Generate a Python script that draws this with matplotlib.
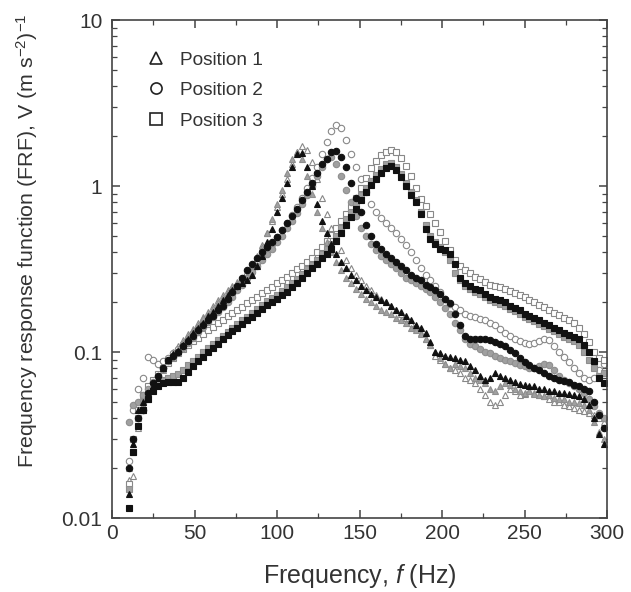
import numpy as np
import matplotlib
matplotlib.use("Agg")
import matplotlib.pyplot as plt
from matplotlib.ticker import FixedLocator, FixedFormatter, LogLocator, NullFormatter

plt.rcParams["font.family"] = ["Liberation Sans", "DejaVu Sans"]
plt.rcParams["mathtext.fontset"] = "custom"
plt.rcParams["mathtext.rm"] = "Liberation Sans"
plt.rcParams["mathtext.it"] = "Liberation Sans:italic"

TEXT = "#333333"

# frequency grid (Hz)
freq = np.arange(10, 299, 3)

# Position 1 (triangles)
p1_black = [0.014, 0.028, 0.045, 0.05, 0.055, 0.062, 0.07, 0.08, 0.09, 0.097,
            0.102, 0.11, 0.12, 0.13, 0.14, 0.15, 0.165, 0.175, 0.19, 0.205,
            0.22, 0.235, 0.25, 0.26, 0.27, 0.29, 0.33, 0.38, 0.46, 0.55,
            0.7, 0.85, 1.05, 1.3, 1.55, 1.58, 1.3, 1.0, 0.78, 0.62,
            0.52, 0.45, 0.39, 0.35, 0.32, 0.29, 0.27, 0.25, 0.235, 0.225,
            0.215, 0.205, 0.2, 0.19, 0.18, 0.175, 0.165, 0.155, 0.145, 0.14,
            0.13, 0.115, 0.1, 0.098, 0.095, 0.094, 0.092, 0.09, 0.088, 0.082,
            0.078, 0.072, 0.068, 0.07, 0.075, 0.072, 0.07, 0.068, 0.066, 0.064,
            0.063, 0.062, 0.062, 0.06, 0.06, 0.058, 0.058, 0.057, 0.057, 0.056,
            0.055, 0.054, 0.052, 0.048, 0.04, 0.032, 0.028]
p1_gray = [0.02, 0.03, 0.04, 0.048, 0.055, 0.06, 0.068, 0.078, 0.088, 0.098,
           0.105, 0.115, 0.125, 0.135, 0.145, 0.16, 0.17, 0.185, 0.2, 0.215,
           0.23, 0.245, 0.26, 0.275, 0.29, 0.32, 0.37, 0.43, 0.52, 0.63,
           0.78, 0.95, 1.2, 1.45, 1.6, 1.45, 1.15, 0.9, 0.7, 0.56,
           0.46, 0.4, 0.35, 0.31, 0.28, 0.26, 0.24, 0.225, 0.21, 0.2,
           0.19, 0.18, 0.175, 0.17, 0.16, 0.155, 0.15, 0.14, 0.135, 0.128,
           0.12, 0.11, 0.1, 0.092, 0.085, 0.08, 0.085, 0.082, 0.08, 0.075,
           0.07, 0.068, 0.065, 0.06, 0.058, 0.062, 0.065, 0.063, 0.06, 0.058,
           0.057, 0.058, 0.056, 0.055, 0.054, 0.055, 0.053, 0.052, 0.052, 0.05,
           0.05, 0.049, 0.048, 0.045, 0.038, 0.033, 0.03]
p1_open = [0.017, 0.018, 0.035, 0.045, 0.052, 0.06, 0.07, 0.08, 0.09, 0.1,
           0.108, 0.118, 0.128, 0.138, 0.15, 0.162, 0.175, 0.19, 0.205, 0.22,
           0.235, 0.25, 0.265, 0.28, 0.3, 0.33, 0.38, 0.44, 0.52, 0.62,
           0.75, 0.9, 1.1, 1.35, 1.6, 1.75, 1.65, 1.4, 1.1, 0.85,
           0.68, 0.56, 0.47, 0.41, 0.36, 0.32, 0.29, 0.27, 0.25, 0.235,
           0.22, 0.21, 0.2, 0.19, 0.18, 0.17, 0.16, 0.15, 0.14, 0.13,
           0.12, 0.11, 0.095, 0.09, 0.085, 0.08, 0.078, 0.075, 0.07, 0.068,
           0.065, 0.06, 0.055, 0.05, 0.048, 0.05, 0.055, 0.06, 0.058, 0.055,
           0.056, 0.058, 0.057, 0.055, 0.054, 0.052, 0.05, 0.05, 0.048, 0.047,
           0.046, 0.045, 0.044, 0.043, 0.042, 0.04, 0.038]

# Position 2 (circles)
p2_black = [0.02, 0.03, 0.04, 0.045, 0.057, 0.065, 0.072, 0.08, 0.09, 0.095,
            0.1, 0.108, 0.116, 0.125, 0.135, 0.145, 0.155, 0.165, 0.178, 0.19,
            0.21, 0.23, 0.25, 0.28, 0.31, 0.34, 0.37, 0.4, 0.43, 0.46,
            0.49, 0.54, 0.6, 0.66, 0.73, 0.82, 0.92, 1.05, 1.2, 1.35,
            1.45, 1.6, 1.62, 1.5, 1.3, 1.05, 0.85, 0.7, 0.58, 0.5,
            0.45, 0.42, 0.39, 0.37, 0.35, 0.33, 0.31, 0.29, 0.28, 0.27,
            0.255, 0.245, 0.235, 0.225, 0.21, 0.197, 0.17, 0.145, 0.125, 0.12,
            0.12, 0.12, 0.12, 0.118, 0.115, 0.112, 0.108, 0.103, 0.098, 0.092,
            0.087, 0.083, 0.08, 0.078, 0.075, 0.072, 0.07, 0.068, 0.067, 0.066,
            0.063, 0.062, 0.06, 0.058, 0.05, 0.042, 0.035]
p2_gray = [0.038, 0.048, 0.05, 0.055, 0.06, 0.066, 0.072, 0.08, 0.088, 0.094,
           0.1, 0.106, 0.113, 0.122, 0.132, 0.142, 0.152, 0.162, 0.175, 0.188,
           0.2, 0.215, 0.235, 0.255, 0.28, 0.305, 0.33, 0.36, 0.39, 0.42,
           0.46, 0.5, 0.56, 0.62, 0.69, 0.78, 0.88, 1.0, 1.15, 1.3,
           1.45, 1.5, 1.35, 1.15, 0.95, 0.8, 0.66, 0.56, 0.5, 0.45,
           0.41, 0.38, 0.36, 0.34, 0.32, 0.3, 0.28, 0.27, 0.26, 0.25,
           0.24, 0.23, 0.215, 0.2, 0.185, 0.17, 0.15, 0.135, 0.12, 0.112,
           0.108, 0.105, 0.1, 0.098, 0.095, 0.092, 0.09, 0.088, 0.086, 0.084,
           0.082, 0.08, 0.08, 0.082, 0.085, 0.083, 0.078, 0.072, 0.068, 0.065,
           0.062, 0.06, 0.057, 0.052, 0.047, 0.043, 0.04]
p2_open = [0.022, 0.045, 0.06, 0.07, 0.093, 0.09, 0.085, 0.088, 0.092, 0.098,
           0.104, 0.112, 0.12, 0.13, 0.14, 0.15, 0.16, 0.17, 0.183, 0.196,
           0.21, 0.225, 0.245, 0.265, 0.29, 0.315, 0.345, 0.375, 0.41, 0.45,
           0.49, 0.54, 0.6, 0.67, 0.75, 0.85, 0.97, 1.12, 1.3, 1.55,
           1.85, 2.15, 2.35, 2.25, 1.9, 1.55, 1.3, 1.1, 0.92, 0.78,
           0.7, 0.64, 0.6, 0.56, 0.52, 0.48, 0.44, 0.4, 0.36, 0.32,
           0.29, 0.27, 0.25, 0.23, 0.21, 0.195, 0.186, 0.178, 0.17, 0.165,
           0.162, 0.158, 0.155, 0.15, 0.145, 0.138, 0.13, 0.125, 0.12, 0.116,
           0.113, 0.112, 0.113, 0.116, 0.12, 0.118, 0.108, 0.1, 0.093, 0.087,
           0.08, 0.075, 0.07, 0.068, 0.07, 0.078, 0.085]

# Position 3 (squares)
p3_black = [0.0115, 0.025, 0.036, 0.045, 0.052, 0.058, 0.062, 0.065, 0.066, 0.066,
            0.066, 0.07, 0.076, 0.082, 0.088, 0.094, 0.1, 0.106, 0.112, 0.12,
            0.127, 0.133, 0.14, 0.147, 0.155, 0.163, 0.172, 0.182, 0.192, 0.2,
            0.21, 0.22, 0.23, 0.245, 0.26, 0.28, 0.3, 0.32, 0.34, 0.37,
            0.39, 0.42, 0.47, 0.52, 0.58, 0.65, 0.73, 0.82, 0.92, 1.02,
            1.1, 1.2, 1.28, 1.32, 1.25, 1.13, 1.0, 0.88, 0.8, 0.68,
            0.55, 0.48, 0.45, 0.42, 0.41, 0.39, 0.34, 0.28, 0.26, 0.25,
            0.24, 0.235, 0.225, 0.215, 0.21, 0.205, 0.2, 0.19, 0.185, 0.18,
            0.17, 0.165, 0.16, 0.155, 0.15, 0.145, 0.14, 0.135, 0.13, 0.127,
            0.124, 0.12, 0.11, 0.1, 0.088, 0.07, 0.065]
p3_gray = [0.015, 0.025, 0.04, 0.05, 0.056, 0.06, 0.064, 0.068, 0.07, 0.072,
           0.074, 0.078, 0.083, 0.088, 0.094, 0.1, 0.106, 0.112, 0.118, 0.125,
           0.132, 0.14, 0.147, 0.155, 0.163, 0.172, 0.182, 0.192, 0.202, 0.212,
           0.222, 0.233, 0.245, 0.26, 0.275, 0.295, 0.315, 0.335, 0.36, 0.39,
           0.42, 0.45, 0.5, 0.56, 0.63, 0.7, 0.78, 0.88, 0.98, 1.08,
           1.17, 1.27, 1.35, 1.38, 1.3, 1.18, 1.05, 0.92, 0.82, 0.7,
           0.58, 0.5, 0.46, 0.43, 0.4, 0.36, 0.3, 0.27, 0.25, 0.24,
           0.23, 0.225, 0.215, 0.205, 0.2, 0.195, 0.19, 0.182, 0.176, 0.17,
           0.163, 0.158, 0.153, 0.148, 0.143, 0.138, 0.133, 0.128, 0.124, 0.12,
           0.116, 0.11, 0.1, 0.09, 0.08, 0.072, 0.075]
p3_open = [0.016, 0.03, 0.045, 0.055, 0.062, 0.068, 0.074, 0.08, 0.086, 0.092,
           0.098, 0.104, 0.11, 0.116, 0.122, 0.128, 0.135, 0.142, 0.15, 0.157,
           0.165, 0.172, 0.18, 0.188, 0.197, 0.206, 0.216, 0.226, 0.236, 0.248,
           0.26, 0.272, 0.285, 0.3, 0.315, 0.33, 0.35, 0.37, 0.4, 0.43,
           0.47, 0.51, 0.56, 0.62, 0.68, 0.75, 0.85, 0.97, 1.12, 1.28,
           1.42, 1.53, 1.6, 1.65, 1.6, 1.48, 1.32, 1.15, 0.98, 0.84,
           0.76, 0.68, 0.6, 0.53, 0.47, 0.41, 0.36, 0.33, 0.31, 0.3,
           0.285, 0.275, 0.265, 0.255, 0.25, 0.245, 0.24, 0.232, 0.226, 0.22,
           0.214, 0.207, 0.2, 0.193, 0.187, 0.18, 0.173, 0.167, 0.16, 0.155,
           0.15, 0.14, 0.128, 0.115, 0.1, 0.092, 0.09]

legend_labels = ["Position 1", "Position 2", "Position 3"]
y_ticks = [0.01, 0.1, 1, 10]
y_labels = ["0.01", "0.1", "1", "10"]

fig = plt.figure(figsize=(6.31, 5.92), dpi=100)
ax = fig.add_axes([0.1775, 0.125, 0.7845, 0.841])

ms = 4.6
series = [
    (p1_open, "^", "white", "#888888"),
    (p2_open, "o", "white", "#888888"),
    (p3_open, "s", "white", "#888888"),
    (p1_gray, "^", "#a0a0a0", "#8e8e8e"),
    (p2_gray, "o", "#a0a0a0", "#8e8e8e"),
    (p3_gray, "s", "#a0a0a0", "#8e8e8e"),
    (p1_black, "^", "#111111", "#111111"),
    (p2_black, "o", "#111111", "#111111"),
    (p3_black, "s", "#111111", "#111111"),
]
for vals, mk, fc, ec in series:
    ax.plot(freq, vals, linestyle="none", marker=mk, markersize=ms,
            markerfacecolor=fc, markeredgecolor=ec, markeredgewidth=0.8)

# legend with open markers
handles = [plt.Line2D([0], [0], linestyle="none", marker=m, markersize=8,
                      markerfacecolor="white", markeredgecolor="#222222",
                      markeredgewidth=1.2)
           for m in ["^", "o", "s"]]
leg = ax.legend(handles, legend_labels, loc="upper left", frameon=False,
                fontsize=13.7, labelspacing=0.7, handletextpad=0.65,
                handlelength=1.2, bbox_to_anchor=(0.032, 0.972))
for t in leg.get_texts():
    t.set_color(TEXT)

ax.set_xlim(0, 300)
ax.set_yscale("log")
ax.set_ylim(0.01, 10)
ax.set_xticks([0, 50, 100, 150, 200, 250, 300])
ax.set_xticks(np.arange(25, 300, 50), minor=True)
ax.yaxis.set_major_locator(FixedLocator(y_ticks))
ax.yaxis.set_major_formatter(FixedFormatter(y_labels))
ax.yaxis.set_minor_locator(LogLocator(base=10, subs=np.arange(2, 10)))
ax.yaxis.set_minor_formatter(NullFormatter())

ax.tick_params(which="both", direction="in", top=True, right=True,
               colors="#444444", labelcolor=TEXT, labelsize=15)
ax.tick_params(which="major", length=6, width=1.1)
ax.tick_params(which="minor", length=3.5, width=0.9)
ax.tick_params(axis="x", pad=4)
ax.tick_params(axis="y", pad=7)
for sp in ax.spines.values():
    sp.set_color("#444444")
    sp.set_linewidth(1.2)

ax.set_xlabel("Frequency, $\\mathit{f}$ (Hz)", fontsize=18, color=TEXT, labelpad=14)
ax.set_ylabel("Frequency response function (FRF), V (m s$^{-2}$)$^{-1}$",
              fontsize=15.4, color=TEXT)
ax.yaxis.set_label_coords(-0.145, 0.556)

fig.savefig("out.png", dpi=100, facecolor="white")
